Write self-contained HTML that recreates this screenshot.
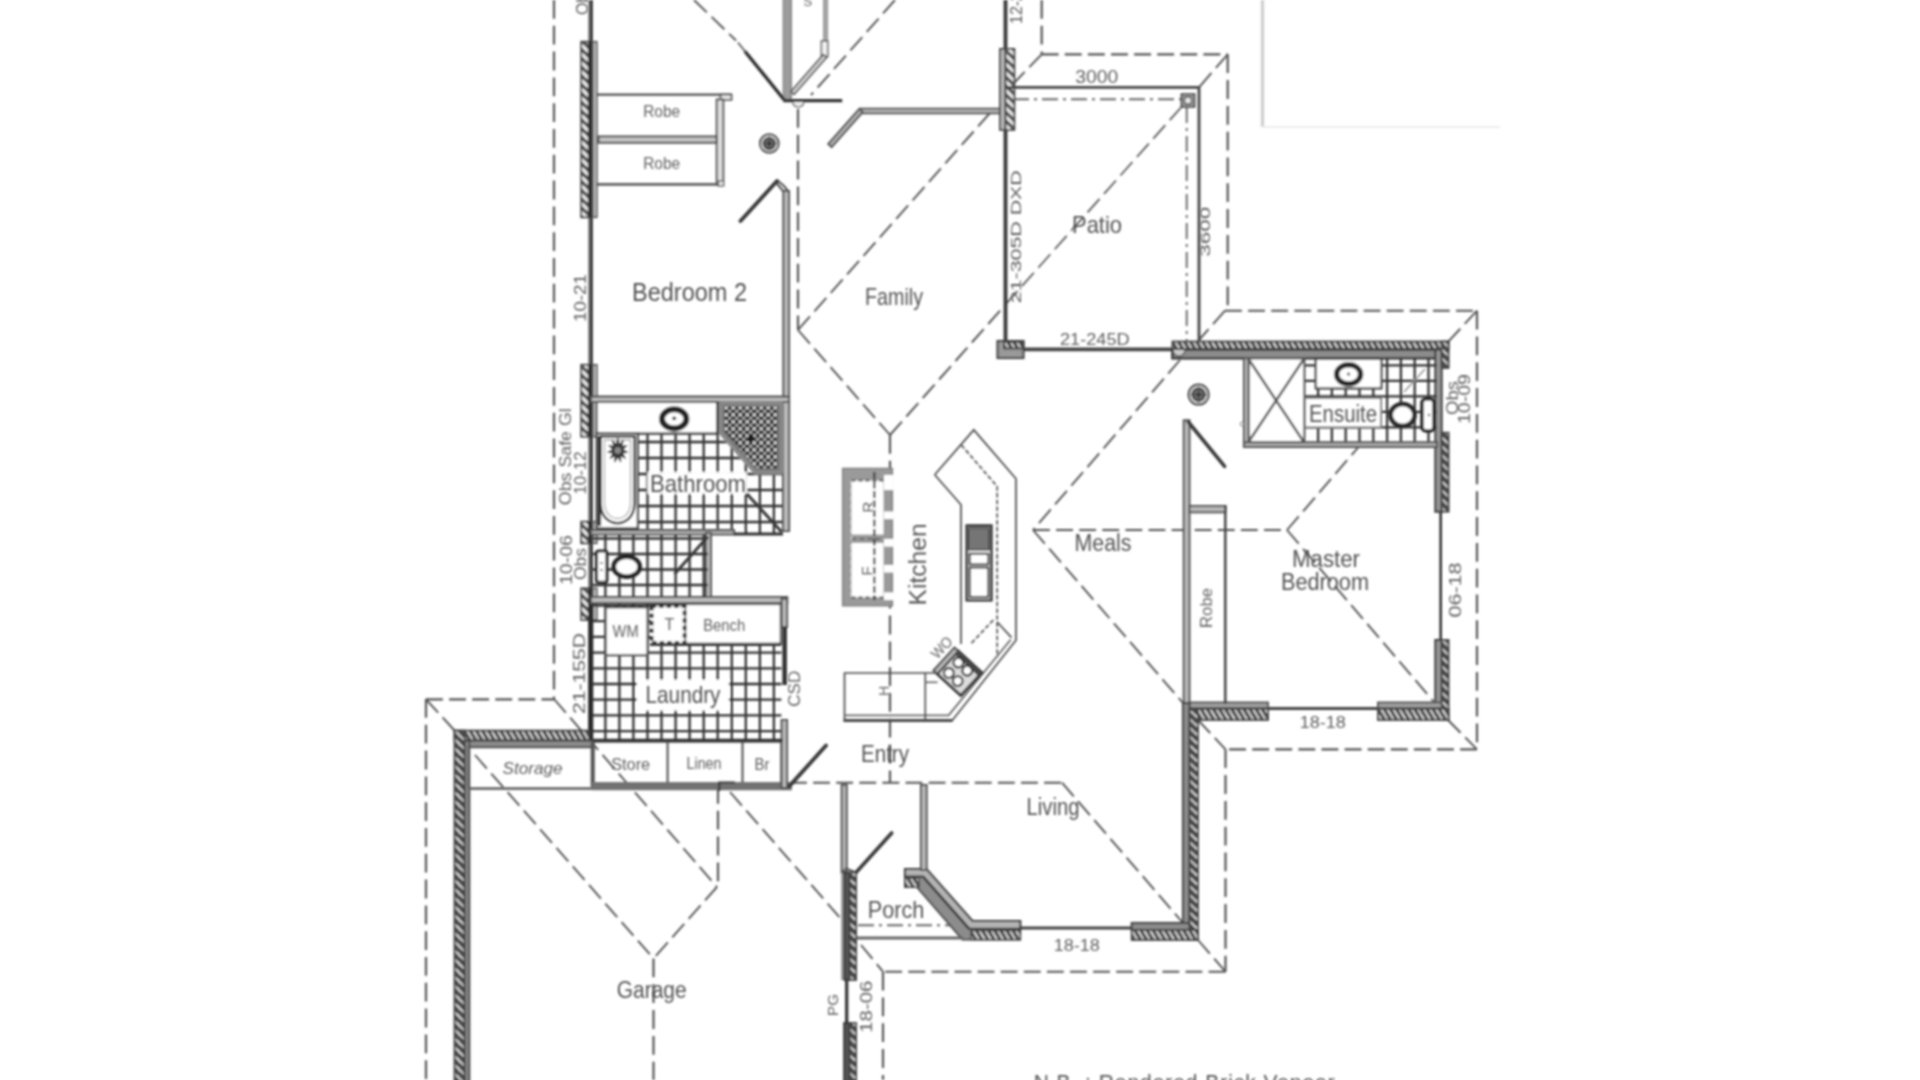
<!DOCTYPE html>
<html lang="en">
<head>
<meta charset="utf-8">
<title>Floor Plan</title>
<style>
html,body{margin:0;padding:0;background:#fff;width:1920px;height:1080px;overflow:hidden}
svg{display:block;position:absolute;left:0;top:0}
svg text{font-family:"Liberation Sans",sans-serif}
</style>
</head>
<body>
<svg width="1920" height="1080" viewBox="0 0 1920 1080">
<defs>
<pattern id="hv" width="9" height="8.8" patternUnits="userSpaceOnUse">
<rect width="9" height="8.8" fill="#f4f4f4"/>
<path d="M-1 -1 L10 9.8 M-1 7.8 L10 18.6 M-1 -9.8 L10 1" stroke="#505050" stroke-width="3.6" fill="none"/>
</pattern>
<pattern id="hh" width="6.1" height="10" patternUnits="userSpaceOnUse">
<rect width="6.1" height="10" fill="#f4f4f4"/>
<path d="M-0.6 -1 L6.7 11 M-6.7 -1 L0.6 11 M5.5 -1 L12.8 11" stroke="#505050" stroke-width="2.7" fill="none"/>
</pattern>
<pattern id="hvd" width="9" height="8.8" patternUnits="userSpaceOnUse">
<rect width="9" height="8.8" fill="#f4f4f4"/>
<path d="M-1 -1 L10 9.8 M-1 7.8 L10 18.6 M-1 -9.8 L10 1" stroke="#4a4a4a" stroke-width="4.9" fill="none"/>
</pattern>
<pattern id="hhd" width="6.1" height="10" patternUnits="userSpaceOnUse">
<rect width="6.1" height="10" fill="#f4f4f4"/>
<path d="M-0.6 -1 L6.7 11 M-6.7 -1 L0.6 11 M5.5 -1 L12.8 11" stroke="#4a4a4a" stroke-width="3.7" fill="none"/>
</pattern>
<pattern id="shw" width="7" height="7" patternUnits="userSpaceOnUse">
<rect width="7" height="7" fill="#6a6a6a"/>
<circle cx="1.7" cy="1.7" r="1.9" fill="#222"/>
<circle cx="5.2" cy="5.2" r="1.9" fill="#2a2a2a"/>
<circle cx="5.2" cy="1.7" r="1.5" fill="#e8e8e8"/>
<circle cx="1.7" cy="5.2" r="1.3" fill="#bbb"/>
</pattern>
<pattern id="spl" width="4" height="4" patternUnits="userSpaceOnUse">
<rect width="4" height="4" fill="#555"/>
<circle cx="1" cy="1" r="1.2" fill="#111"/>
<circle cx="3" cy="3" r="1.2" fill="#111"/>
</pattern>
<pattern id="drn" width="3" height="80" patternUnits="userSpaceOnUse">
<rect width="3" height="80" fill="#999"/>
<rect width="1.5" height="80" fill="#444"/>
</pattern>
</defs>
<filter id="softt" x="0" y="0" width="1920" height="1080" filterUnits="userSpaceOnUse"><feGaussianBlur stdDeviation="0.85"/></filter>
<filter id="soft" x="0" y="0" width="1920" height="1080" filterUnits="userSpaceOnUse"><feGaussianBlur stdDeviation="1.1"/></filter>
<rect width="1920" height="1080" fill="#ffffff"/>
<g filter="url(#soft)">
<line x1="1262.5" y1="0.0" x2="1262.5" y2="127.0" stroke="#cfcfcf" stroke-width="3.36" stroke-linecap="butt"/>
<line x1="1262.5" y1="127.0" x2="1500.0" y2="127.0" stroke="#ececec" stroke-width="2.1" stroke-linecap="butt"/>
<line x1="554.0" y1="0.0" x2="554.0" y2="699.0" stroke="#525252" stroke-width="2.15" stroke-dasharray="18.8 7.0" stroke-linecap="butt"/>
<line x1="426.0" y1="699.3" x2="554.0" y2="699.3" stroke="#525252" stroke-width="2.15" stroke-dasharray="16.9 6.2" stroke-linecap="butt"/>
<line x1="426.0" y1="699.0" x2="426.0" y2="1080.0" stroke="#525252" stroke-width="2.15" stroke-dasharray="18.8 7.0" stroke-linecap="butt"/>
<line x1="426.0" y1="699.3" x2="454.5" y2="730.5" stroke="#525252" stroke-width="1.892" stroke-dasharray="18.0 6.6" stroke-linecap="butt"/>
<line x1="554.0" y1="699.0" x2="717.0" y2="887.0" stroke="#525252" stroke-width="1.892" stroke-dasharray="18.0 6.7" stroke-linecap="butt"/>
<line x1="718.0" y1="785.0" x2="718.0" y2="887.0" stroke="#525252" stroke-width="2.15" stroke-dasharray="18.8 7.0" stroke-linecap="butt"/>
<line x1="475.0" y1="755.0" x2="653.5" y2="958.5" stroke="#525252" stroke-width="1.892" stroke-dasharray="18.0 6.7" stroke-linecap="butt"/>
<line x1="717.0" y1="887.0" x2="653.5" y2="958.5" stroke="#525252" stroke-width="1.892" stroke-dasharray="18.0 6.7" stroke-linecap="butt"/>
<line x1="653.5" y1="958.5" x2="653.5" y2="1080.0" stroke="#525252" stroke-width="2.15" stroke-dasharray="18.8 7.0" stroke-linecap="butt"/>
<line x1="694.0" y1="0.0" x2="736.0" y2="40.5" stroke="#525252" stroke-width="1.892" stroke-dasharray="17.8 6.6" stroke-linecap="butt"/>
<line x1="895.0" y1="0.0" x2="811.0" y2="95.0" stroke="#525252" stroke-width="1.892" stroke-dasharray="18.0 6.7" stroke-linecap="butt"/>
<line x1="798.0" y1="109.0" x2="798.0" y2="330.0" stroke="#525252" stroke-width="2.15" stroke-dasharray="18.8 7.0" stroke-linecap="butt"/>
<line x1="990.0" y1="113.0" x2="798.0" y2="330.0" stroke="#525252" stroke-width="1.892" stroke-dasharray="18.0 6.7" stroke-linecap="butt"/>
<line x1="798.0" y1="330.0" x2="890.0" y2="435.0" stroke="#525252" stroke-width="1.892" stroke-dasharray="18.0 6.7" stroke-linecap="butt"/>
<line x1="890.0" y1="435.0" x2="1005.0" y2="305.0" stroke="#525252" stroke-width="1.892" stroke-dasharray="18.0 6.7" stroke-linecap="butt"/>
<line x1="890.0" y1="435.0" x2="890.0" y2="782.0" stroke="#525252" stroke-width="2.15" stroke-dasharray="18.8 7.0" stroke-linecap="butt"/>
<line x1="790.0" y1="782.7" x2="1062.0" y2="782.7" stroke="#525252" stroke-width="2.15" stroke-dasharray="16.9 6.2" stroke-linecap="butt"/>
<line x1="1062.0" y1="782.7" x2="1183.0" y2="923.0" stroke="#525252" stroke-width="1.892" stroke-dasharray="18.0 6.7" stroke-linecap="butt"/>
<line x1="730.0" y1="792.0" x2="842.0" y2="920.0" stroke="#525252" stroke-width="1.892" stroke-dasharray="18.0 6.7" stroke-linecap="butt"/>
<line x1="1180.0" y1="360.0" x2="1033.0" y2="530.0" stroke="#525252" stroke-width="1.892" stroke-dasharray="18.0 6.7" stroke-linecap="butt"/>
<line x1="1033.0" y1="530.0" x2="1183.0" y2="703.0" stroke="#525252" stroke-width="1.892" stroke-dasharray="18.0 6.7" stroke-linecap="butt"/>
<line x1="1033.0" y1="530.0" x2="1287.0" y2="530.0" stroke="#525252" stroke-width="2.15" stroke-dasharray="16.9 6.2" stroke-linecap="butt"/>
<line x1="1287.0" y1="530.0" x2="1362.0" y2="443.0" stroke="#525252" stroke-width="1.892" stroke-dasharray="18.0 6.7" stroke-linecap="butt"/>
<line x1="1287.0" y1="530.0" x2="1434.0" y2="702.0" stroke="#525252" stroke-width="1.892" stroke-dasharray="18.0 6.7" stroke-linecap="butt"/>
<line x1="1225.0" y1="310.7" x2="1477.0" y2="310.7" stroke="#525252" stroke-width="2.15" stroke-dasharray="16.9 6.2" stroke-linecap="butt"/>
<line x1="1477.0" y1="310.7" x2="1477.0" y2="749.3" stroke="#525252" stroke-width="2.15" stroke-dasharray="18.8 7.0" stroke-linecap="butt"/>
<line x1="1477.0" y1="749.3" x2="1225.0" y2="749.3" stroke="#525252" stroke-width="2.15" stroke-dasharray="16.9 6.2" stroke-linecap="butt"/>
<line x1="1225.5" y1="749.3" x2="1225.5" y2="971.7" stroke="#525252" stroke-width="2.15" stroke-dasharray="18.8 7.0" stroke-linecap="butt"/>
<line x1="1225.5" y1="971.7" x2="883.0" y2="971.7" stroke="#525252" stroke-width="2.15" stroke-dasharray="16.9 6.2" stroke-linecap="butt"/>
<line x1="883.0" y1="971.7" x2="883.0" y2="1080.0" stroke="#525252" stroke-width="2.15" stroke-dasharray="18.8 7.0" stroke-linecap="butt"/>
<line x1="1225.0" y1="310.7" x2="1199.0" y2="340.0" stroke="#525252" stroke-width="1.892" stroke-dasharray="18.0 6.7" stroke-linecap="butt"/>
<line x1="1477.0" y1="310.7" x2="1448.0" y2="342.0" stroke="#525252" stroke-width="1.892" stroke-dasharray="18.0 6.6" stroke-linecap="butt"/>
<line x1="1448.0" y1="720.0" x2="1477.0" y2="749.3" stroke="#525252" stroke-width="1.892" stroke-dasharray="17.9 6.6" stroke-linecap="butt"/>
<line x1="1198.0" y1="720.0" x2="1225.5" y2="749.3" stroke="#525252" stroke-width="1.892" stroke-dasharray="17.9 6.6" stroke-linecap="butt"/>
<line x1="1198.0" y1="940.0" x2="1225.5" y2="971.7" stroke="#525252" stroke-width="1.892" stroke-dasharray="18.0 6.7" stroke-linecap="butt"/>
<line x1="861.0" y1="945.0" x2="883.0" y2="971.7" stroke="#525252" stroke-width="1.892" stroke-dasharray="18.1 6.7" stroke-linecap="butt"/>
<line x1="1041.7" y1="0.0" x2="1041.7" y2="54.3" stroke="#525252" stroke-width="2.15" stroke-dasharray="18.8 7.0" stroke-linecap="butt"/>
<line x1="1041.7" y1="54.3" x2="1227.7" y2="54.3" stroke="#525252" stroke-width="2.15" stroke-dasharray="16.9 6.2" stroke-linecap="butt"/>
<line x1="1227.7" y1="54.3" x2="1227.7" y2="310.7" stroke="#525252" stroke-width="2.15" stroke-dasharray="18.8 7.0" stroke-linecap="butt"/>
<line x1="1041.7" y1="54.3" x2="1014.0" y2="83.0" stroke="#525252" stroke-width="1.892" stroke-dasharray="17.9 6.6" stroke-linecap="butt"/>
<line x1="1227.7" y1="54.3" x2="1199.0" y2="87.3" stroke="#525252" stroke-width="1.892" stroke-dasharray="18.0 6.7" stroke-linecap="butt"/>
<line x1="1013.0" y1="99.3" x2="1181.7" y2="99.3" stroke="#686868" stroke-width="1.9" stroke-dasharray="16 5 3 5" stroke-linecap="butt"/>
<line x1="1186.7" y1="107.0" x2="1186.7" y2="342.0" stroke="#686868" stroke-width="1.9" stroke-dasharray="16 5 3 5" stroke-linecap="butt"/>
<line x1="1181.7" y1="106.7" x2="1006.0" y2="304.0" stroke="#525252" stroke-width="1.672" stroke-dasharray="18.0 6.7" stroke-linecap="butt"/>
<line x1="858.0" y1="925.2" x2="950.0" y2="925.2" stroke="#686868" stroke-width="1.9" stroke-dasharray="16 5 3 5" stroke-linecap="butt"/>
<line x1="589.4" y1="0.0" x2="589.4" y2="740.0" stroke="#777" stroke-width="2.4" stroke-linecap="butt"/>
<line x1="591.4" y1="0.0" x2="591.4" y2="740.0" stroke="#242424" stroke-width="2.6" stroke-linecap="butt"/>
<rect x="581.2" y="41.7" width="7.6" height="175.6" fill="url(#hv)" stroke="#444" stroke-width="1.82"/>
<line x1="590.6" y1="41.7" x2="590.6" y2="217.3" stroke="#2e2e2e" stroke-width="4.4" stroke-linecap="butt"/>
<rect x="592.8" y="41.7" width="4.0" height="175.6" fill="#c0c0c0" stroke="#555" stroke-width="1.68"/>
<rect x="581.2" y="364.8" width="7.6" height="71.9" fill="url(#hv)" stroke="#444" stroke-width="1.82"/>
<line x1="590.6" y1="364.8" x2="590.6" y2="436.7" stroke="#2e2e2e" stroke-width="4.4" stroke-linecap="butt"/>
<rect x="592.8" y="364.8" width="4.0" height="71.9" fill="#c0c0c0" stroke="#555" stroke-width="1.68"/>
<rect x="581.2" y="521.7" width="7.6" height="21.6" fill="url(#hv)" stroke="#444" stroke-width="1.82"/>
<line x1="590.6" y1="521.7" x2="590.6" y2="543.3" stroke="#2e2e2e" stroke-width="4.4" stroke-linecap="butt"/>
<rect x="592.8" y="521.7" width="4.0" height="21.6" fill="#c0c0c0" stroke="#555" stroke-width="1.68"/>
<rect x="581.2" y="588.3" width="7.6" height="31.7" fill="url(#hv)" stroke="#444" stroke-width="1.82"/>
<line x1="590.6" y1="588.3" x2="590.6" y2="620.0" stroke="#2e2e2e" stroke-width="4.4" stroke-linecap="butt"/>
<rect x="592.8" y="588.3" width="4.0" height="31.7" fill="#c0c0c0" stroke="#555" stroke-width="1.68"/>
<line x1="590.8" y1="602.0" x2="590.8" y2="740.0" stroke="#2c2c2c" stroke-width="5.0" stroke-linecap="butt"/>
<line x1="597.0" y1="94.6" x2="731.5" y2="94.6" stroke="#505050" stroke-width="2.4" stroke-linecap="butt"/>
<rect x="720.5" y="94.6" width="11.0" height="5.2" fill="#eee" stroke="#555" stroke-width="1.82"/>
<rect x="716.7" y="99.5" width="6.6" height="85.5" fill="#dedede" stroke="#555" stroke-width="1.96"/>
<rect x="598.5" y="136.5" width="118.2" height="6.2" fill="#c8c8c8" stroke="#555" stroke-width="2.1"/>
<line x1="597.0" y1="184.4" x2="723.5" y2="184.4" stroke="#606060" stroke-width="2.8" stroke-linecap="butt"/>
<rect x="718.5" y="181.0" width="5.0" height="5.0" fill="#eee" stroke="#666" stroke-width="1.4"/>
<rect x="783.2" y="-3.0" width="8.2" height="102.0" fill="#9c9c9c" stroke="#7a7a7a" stroke-width="1.12"/>
<rect x="823.5" y="-3.0" width="4.2" height="44.0" fill="#a6a6a6" stroke="#888" stroke-width="0.84"/>
<rect x="821.4" y="41.0" width="6.3" height="15.5" fill="#f4f4f4" stroke="#666" stroke-width="1.68"/>
<polygon points="823.4,54.6 790.9,91.6 794.1,94.4 826.6,57.4" fill="#d8d8d8" stroke="#555" stroke-width="1.68" stroke-linejoin="miter"/>
<line x1="745.5" y1="52.0" x2="783.5" y2="99.0" stroke="#2a2a2a" stroke-width="3.3" stroke-linecap="round"/>
<line x1="738.0" y1="42.5" x2="745.5" y2="52.0" stroke="#666" stroke-width="2.0" stroke-linecap="butt"/>
<line x1="783.3" y1="100.6" x2="842.2" y2="100.6" stroke="#333" stroke-width="3.4" stroke-linecap="butt"/>
<path d="M792.8 102.3 A5.6 5.6 0 0 0 803.8 102.3" fill="#f0f0f0" stroke="#555" stroke-width="1.4"/>
<polygon points="860.0,113.2 1000.0,113.2 1000.0,108.8 860.0,108.8" fill="#bdbdbd" stroke="#555" stroke-width="2.1" stroke-linejoin="miter"/>
<polygon points="859.4,109.0 828.4,144.0 831.6,147.0 862.6,112.0" fill="#bdbdbd" stroke="#555" stroke-width="2.1" stroke-linejoin="miter"/>
<polygon points="783.4,191.0 783.4,531.0 789.0,531.0 789.0,191.0" fill="#bdbdbd" stroke="#555" stroke-width="2.1" stroke-linejoin="miter"/>
<polyline points="777.5,180.5 784.0,186.0 788.8,192.0" fill="none" stroke="#555" stroke-width="2.1" stroke-linejoin="miter"/>
<polyline points="776.0,182.5 783.5,191.5" fill="none" stroke="#555" stroke-width="2.1" stroke-linejoin="miter"/>
<line x1="740.5" y1="221.0" x2="777.0" y2="181.0" stroke="#3a3a3a" stroke-width="3.84" stroke-linecap="round"/>
<polygon points="591.0,402.0 789.0,402.0 789.0,396.6 591.0,396.6" fill="#bdbdbd" stroke="#555" stroke-width="2.1" stroke-linejoin="miter"/>
<line x1="1005.5" y1="0.0" x2="1005.5" y2="349.0" stroke="#3a3a3a" stroke-width="3.84" stroke-linecap="butt"/>
<rect x="1000.0" y="48.9" width="5.5" height="81.0" fill="#b8b8b8" stroke="#444" stroke-width="1.82"/>
<rect x="1005.5" y="48.9" width="8.9" height="81.0" fill="url(#hv)" stroke="#444" stroke-width="1.82"/>
<line x1="1005.5" y1="87.3" x2="1199.0" y2="87.3" stroke="#444" stroke-width="2.8" stroke-linecap="butt"/>
<line x1="1199.0" y1="86.3" x2="1199.0" y2="343.0" stroke="#444" stroke-width="2.8" stroke-linecap="butt"/>
<rect x="1181.7" y="94.3" width="12.6" height="12.4" fill="#e8e8e8" stroke="#444" stroke-width="2.1"/>
<rect x="1184.5" y="97.0" width="7.0" height="7.0" fill="none" stroke="#444" stroke-width="1.68"/>
<line x1="1020.0" y1="349.4" x2="1174.0" y2="349.4" stroke="#444" stroke-width="3.6" stroke-linecap="butt"/>
<rect x="997.5" y="341.0" width="26.0" height="17.0" fill="#999" stroke="#444" stroke-width="2.1"/>
<rect x="1004.0" y="342.0" width="19.5" height="6.5" fill="url(#hhd)" stroke="#444" stroke-width="1.82"/>
<rect x="1172.4" y="341.5" width="276.2" height="8.0" fill="url(#hhd)" stroke="#444" stroke-width="1.82"/>
<rect x="1172.4" y="349.5" width="269.0" height="8.8" fill="#8c8c8c" stroke="#3a3a3a" stroke-width="2.52"/>
<path d="M1173 350 a6 6 0 0 0 12 0" fill="#ccc" stroke="#555" stroke-width="1.3"/>
<line x1="1440.7" y1="355.0" x2="1440.7" y2="704.0" stroke="#333" stroke-width="2.6" stroke-linecap="butt"/>
<rect x="1435.4" y="349.5" width="6.2" height="162.2" fill="#999" stroke="#3a3a3a" stroke-width="2.1"/>
<rect x="1435.4" y="640.0" width="6.2" height="70.0" fill="#999" stroke="#3a3a3a" stroke-width="2.1"/>
<rect x="1441.6" y="341.5" width="7.0" height="26.5" fill="url(#hvd)" stroke="#444" stroke-width="1.82"/>
<rect x="1441.6" y="432.7" width="7.0" height="79.0" fill="url(#hvd)" stroke="#444" stroke-width="1.82"/>
<rect x="1441.6" y="640.0" width="7.0" height="80.0" fill="url(#hvd)" stroke="#444" stroke-width="1.82"/>
<rect x="1186.7" y="702.5" width="81.3" height="5.6" fill="#a0a0a0" stroke="#555" stroke-width="1.96"/>
<rect x="1186.7" y="708.8" width="81.3" height="11.2" fill="url(#hhd)" stroke="#444" stroke-width="1.82"/>
<rect x="1378.0" y="702.5" width="63.6" height="5.6" fill="#a0a0a0" stroke="#555" stroke-width="1.96"/>
<rect x="1378.0" y="708.8" width="70.6" height="11.2" fill="url(#hhd)" stroke="#444" stroke-width="1.82"/>
<line x1="1268.0" y1="708.5" x2="1378.0" y2="708.5" stroke="#444" stroke-width="3.0" stroke-linecap="butt"/>
<polygon points="1183.8,420.3 1183.8,704.0 1189.4,704.0 1189.4,420.3" fill="#bdbdbd" stroke="#555" stroke-width="2.1" stroke-linejoin="miter"/>
<line x1="1188.3" y1="422.0" x2="1224.6" y2="466.4" stroke="#3a3a3a" stroke-width="3.6" stroke-linecap="round"/>
<rect x="1189.4" y="506.0" width="36.0" height="6.3" fill="#b8b8b8" stroke="#555" stroke-width="1.96"/>
<line x1="1225.3" y1="505.0" x2="1225.3" y2="704.0" stroke="#444" stroke-width="2.52" stroke-linecap="butt"/>
<rect x="1183.0" y="703.0" width="6.5" height="227.0" fill="#8c8c8c" stroke="#444" stroke-width="2.1"/>
<rect x="1189.5" y="710.0" width="8.5" height="230.0" fill="url(#hvd)" stroke="#444" stroke-width="1.82"/>
<rect x="1131.7" y="923.0" width="57.8" height="7.0" fill="#8c8c8c" stroke="#444" stroke-width="2.1"/>
<rect x="1131.7" y="930.0" width="66.3" height="10.0" fill="url(#hhd)" stroke="#444" stroke-width="1.82"/>
<line x1="1020.0" y1="928.0" x2="1131.7" y2="928.0" stroke="#444" stroke-width="3.12" stroke-linecap="butt"/>
<polygon points="905.0,876.5 923.0,876.5 969.0,928.7 1020.3,928.7 1020.3,939.7 962.5,939.7 917.0,887.2 905.0,887.2" fill="#8c8c8c" stroke="#444" stroke-width="1.82" stroke-linejoin="miter"/>
<rect x="971.0" y="930.5" width="49.3" height="9.2" fill="url(#hhd)" stroke="#444" stroke-width="1.4"/>
<rect x="905.0" y="878.0" width="14.0" height="9.2" fill="url(#hhd)" stroke="#444" stroke-width="1.4"/>
<polygon points="905.0,869.0 926.5,869.0 972.5,921.0 1020.3,921.0 1020.3,928.7 969.0,928.7 923.0,876.5 905.0,876.5" fill="#b4b4b4" stroke="#3a3a3a" stroke-width="2.1" stroke-linejoin="miter"/>
<line x1="923.0" y1="876.5" x2="969.0" y2="928.7" stroke="#3a3a3a" stroke-width="2.6" stroke-linecap="butt"/>
<polygon points="841.7,785.0 841.7,873.0 846.7,873.0 846.7,785.0" fill="#bdbdbd" stroke="#555" stroke-width="2.1" stroke-linejoin="miter"/>
<polygon points="921.0,785.0 921.0,870.0 926.6,870.0 926.6,785.0" fill="#bdbdbd" stroke="#555" stroke-width="2.1" stroke-linejoin="miter"/>
<line x1="856.0" y1="872.5" x2="891.7" y2="833.0" stroke="#3a3a3a" stroke-width="3.6" stroke-linecap="round"/>
<polyline points="842.0,873.0 846.0,868.5 856.0,872.5" fill="none" stroke="#555" stroke-width="1.96" stroke-linejoin="miter"/>
<line x1="856.0" y1="938.0" x2="963.0" y2="938.0" stroke="#666" stroke-width="2.8" stroke-linecap="butt"/>
<line x1="842.0" y1="873.0" x2="842.0" y2="980.0" stroke="#999" stroke-width="1.96" stroke-linecap="butt"/>
<rect x="844.0" y="872.5" width="5.6" height="107.5" fill="#555" stroke="#333" stroke-width="1.68"/>
<rect x="849.6" y="872.5" width="6.5" height="107.5" fill="url(#hvd)" stroke="#444" stroke-width="1.82"/>
<line x1="846.7" y1="980.0" x2="846.7" y2="1023.0" stroke="#3a3a3a" stroke-width="3.36" stroke-linecap="butt"/>
<rect x="844.0" y="1023.0" width="5.6" height="60.0" fill="#555" stroke="#333" stroke-width="1.68"/>
<rect x="849.6" y="1023.0" width="6.5" height="60.0" fill="url(#hvd)" stroke="#444" stroke-width="1.82"/>
<rect x="454.5" y="730.6" width="134.5" height="10.0" fill="url(#hhd)" stroke="#444" stroke-width="1.82"/>
<rect x="465.0" y="740.6" width="127.0" height="6.4" fill="#8c8c8c" stroke="#444" stroke-width="1.96"/>
<rect x="454.5" y="730.6" width="10.3" height="352.0" fill="url(#hvd)" stroke="#444" stroke-width="1.82"/>
<rect x="464.8" y="740.6" width="4.5" height="345.0" fill="#8c8c8c" stroke="#444" stroke-width="1.96"/>
<rect x="468.8" y="747.2" width="123.2" height="41.3" fill="none" stroke="#555" stroke-width="2.1"/>
<line x1="592.4" y1="741.0" x2="592.4" y2="786.0" stroke="#555" stroke-width="3.36" stroke-linecap="butt"/>
<rect x="593.7" y="741.7" width="187.7" height="41.8" fill="none" stroke="#555" stroke-width="2.1"/>
<line x1="667.6" y1="741.7" x2="667.6" y2="783.5" stroke="#555" stroke-width="2.1" stroke-linecap="butt"/>
<line x1="742.5" y1="741.7" x2="742.5" y2="783.5" stroke="#555" stroke-width="2.1" stroke-linecap="butt"/>
<line x1="468.0" y1="788.6" x2="593.0" y2="788.6" stroke="#666" stroke-width="2.2" stroke-linecap="butt"/>
<line x1="592.0" y1="786.3" x2="792.0" y2="786.3" stroke="#727272" stroke-width="8.0" stroke-linecap="butt"/>
<polyline points="719.2,791.0 719.2,782.5 735.0,782.5" fill="none" stroke="#3a3a3a" stroke-width="2.24" stroke-linejoin="miter"/>
<line x1="789.2" y1="786.4" x2="826.0" y2="745.5" stroke="#3a3a3a" stroke-width="3.84" stroke-linecap="round"/>
<polygon points="789.0,531.0 789.0,402.0 783.0,402.0 783.0,531.0" fill="#bdbdbd" stroke="#555" stroke-width="2.1" stroke-linejoin="miter"/>
<polygon points="591.0,534.5 734.0,534.5 734.0,530.1 591.0,530.1" fill="#bdbdbd" stroke="#555" stroke-width="2.1" stroke-linejoin="miter"/>
<polygon points="705.9,533.0 705.9,600.0 710.9,600.0 710.9,533.0" fill="#bdbdbd" stroke="#555" stroke-width="2.1" stroke-linejoin="miter"/>
<polygon points="591.0,603.0 787.2,603.0 787.2,597.0 591.0,597.0" fill="#bdbdbd" stroke="#555" stroke-width="2.1" stroke-linejoin="miter"/>
<polygon points="781.6,598.7 781.6,627.0 787.0,627.0 787.0,598.7" fill="#bdbdbd" stroke="#555" stroke-width="2.1" stroke-linejoin="miter"/>
<line x1="784.6" y1="627.0" x2="784.6" y2="685.0" stroke="#333" stroke-width="4.6" stroke-linecap="butt"/>
<polygon points="781.6,720.0 781.6,788.0 787.0,788.0 787.0,720.0" fill="#bdbdbd" stroke="#555" stroke-width="2.1" stroke-linejoin="miter"/>
<line x1="647.5" y1="433.3" x2="647.5" y2="529.0" stroke="#333" stroke-width="2.3" stroke-linecap="butt"/>
<line x1="661.5" y1="433.3" x2="661.5" y2="529.0" stroke="#333" stroke-width="2.3" stroke-linecap="butt"/>
<line x1="675.6" y1="433.3" x2="675.6" y2="529.0" stroke="#333" stroke-width="2.3" stroke-linecap="butt"/>
<line x1="689.6" y1="433.3" x2="689.6" y2="529.0" stroke="#333" stroke-width="2.3" stroke-linecap="butt"/>
<line x1="703.7" y1="433.3" x2="703.7" y2="529.0" stroke="#333" stroke-width="2.3" stroke-linecap="butt"/>
<line x1="717.7" y1="433.3" x2="717.7" y2="529.0" stroke="#333" stroke-width="2.3" stroke-linecap="butt"/>
<line x1="731.8" y1="433.3" x2="731.8" y2="529.0" stroke="#333" stroke-width="2.3" stroke-linecap="butt"/>
<line x1="745.8" y1="433.3" x2="745.8" y2="529.0" stroke="#333" stroke-width="2.3" stroke-linecap="butt"/>
<line x1="759.9" y1="433.3" x2="759.9" y2="529.0" stroke="#333" stroke-width="2.3" stroke-linecap="butt"/>
<line x1="773.9" y1="433.3" x2="773.9" y2="529.0" stroke="#333" stroke-width="2.3" stroke-linecap="butt"/>
<line x1="638.0" y1="442.0" x2="782.5" y2="442.0" stroke="#333" stroke-width="2.3" stroke-linecap="butt"/>
<line x1="638.0" y1="458.0" x2="782.5" y2="458.0" stroke="#333" stroke-width="2.3" stroke-linecap="butt"/>
<line x1="638.0" y1="474.0" x2="782.5" y2="474.0" stroke="#333" stroke-width="2.3" stroke-linecap="butt"/>
<line x1="638.0" y1="490.0" x2="782.5" y2="490.0" stroke="#333" stroke-width="2.3" stroke-linecap="butt"/>
<line x1="638.0" y1="506.0" x2="782.5" y2="506.0" stroke="#333" stroke-width="2.3" stroke-linecap="butt"/>
<line x1="638.0" y1="522.0" x2="782.5" y2="522.0" stroke="#333" stroke-width="2.3" stroke-linecap="butt"/>
<line x1="745.9" y1="529.0" x2="745.9" y2="534.5" stroke="#333" stroke-width="2.3" stroke-linecap="butt"/>
<line x1="759.9" y1="529.0" x2="759.9" y2="534.5" stroke="#333" stroke-width="2.3" stroke-linecap="butt"/>
<line x1="773.9" y1="529.0" x2="773.9" y2="534.5" stroke="#333" stroke-width="2.3" stroke-linecap="butt"/>
<line x1="638.0" y1="433.3" x2="719.0" y2="433.3" stroke="#333" stroke-width="2.8" stroke-linecap="butt"/>
<line x1="734.0" y1="534.0" x2="783.0" y2="534.0" stroke="#333" stroke-width="3.08" stroke-linecap="butt"/>
<line x1="605.4" y1="534.0" x2="605.4" y2="597.5" stroke="#333" stroke-width="2.3" stroke-linecap="butt"/>
<line x1="619.4" y1="534.0" x2="619.4" y2="597.5" stroke="#333" stroke-width="2.3" stroke-linecap="butt"/>
<line x1="633.4" y1="534.0" x2="633.4" y2="597.5" stroke="#333" stroke-width="2.3" stroke-linecap="butt"/>
<line x1="647.5" y1="534.0" x2="647.5" y2="597.5" stroke="#333" stroke-width="2.3" stroke-linecap="butt"/>
<line x1="661.5" y1="534.0" x2="661.5" y2="597.5" stroke="#333" stroke-width="2.3" stroke-linecap="butt"/>
<line x1="675.6" y1="534.0" x2="675.6" y2="597.5" stroke="#333" stroke-width="2.3" stroke-linecap="butt"/>
<line x1="689.6" y1="534.0" x2="689.6" y2="597.5" stroke="#333" stroke-width="2.3" stroke-linecap="butt"/>
<line x1="703.7" y1="534.0" x2="703.7" y2="597.5" stroke="#333" stroke-width="2.3" stroke-linecap="butt"/>
<line x1="593.0" y1="538.5" x2="708.0" y2="538.5" stroke="#333" stroke-width="2.3" stroke-linecap="butt"/>
<line x1="593.0" y1="554.0" x2="708.0" y2="554.0" stroke="#333" stroke-width="2.3" stroke-linecap="butt"/>
<line x1="593.0" y1="569.5" x2="708.0" y2="569.5" stroke="#333" stroke-width="2.3" stroke-linecap="butt"/>
<line x1="593.0" y1="585.0" x2="708.0" y2="585.0" stroke="#333" stroke-width="2.3" stroke-linecap="butt"/>
<line x1="605.4" y1="603.5" x2="605.4" y2="740.0" stroke="#333" stroke-width="2.3" stroke-linecap="butt"/>
<line x1="619.4" y1="603.5" x2="619.4" y2="740.0" stroke="#333" stroke-width="2.3" stroke-linecap="butt"/>
<line x1="633.4" y1="603.5" x2="633.4" y2="740.0" stroke="#333" stroke-width="2.3" stroke-linecap="butt"/>
<line x1="647.5" y1="603.5" x2="647.5" y2="740.0" stroke="#333" stroke-width="2.3" stroke-linecap="butt"/>
<line x1="661.5" y1="603.5" x2="661.5" y2="740.0" stroke="#333" stroke-width="2.3" stroke-linecap="butt"/>
<line x1="675.6" y1="603.5" x2="675.6" y2="740.0" stroke="#333" stroke-width="2.3" stroke-linecap="butt"/>
<line x1="689.6" y1="603.5" x2="689.6" y2="740.0" stroke="#333" stroke-width="2.3" stroke-linecap="butt"/>
<line x1="703.7" y1="603.5" x2="703.7" y2="740.0" stroke="#333" stroke-width="2.3" stroke-linecap="butt"/>
<line x1="717.7" y1="603.5" x2="717.7" y2="740.0" stroke="#333" stroke-width="2.3" stroke-linecap="butt"/>
<line x1="731.8" y1="603.5" x2="731.8" y2="740.0" stroke="#333" stroke-width="2.3" stroke-linecap="butt"/>
<line x1="745.8" y1="603.5" x2="745.8" y2="740.0" stroke="#333" stroke-width="2.3" stroke-linecap="butt"/>
<line x1="759.9" y1="603.5" x2="759.9" y2="740.0" stroke="#333" stroke-width="2.3" stroke-linecap="butt"/>
<line x1="773.9" y1="603.5" x2="773.9" y2="740.0" stroke="#333" stroke-width="2.3" stroke-linecap="butt"/>
<line x1="593.0" y1="605.5" x2="781.4" y2="605.5" stroke="#333" stroke-width="2.3" stroke-linecap="butt"/>
<line x1="593.0" y1="621.2" x2="781.4" y2="621.2" stroke="#333" stroke-width="2.3" stroke-linecap="butt"/>
<line x1="593.0" y1="636.9" x2="781.4" y2="636.9" stroke="#333" stroke-width="2.3" stroke-linecap="butt"/>
<line x1="593.0" y1="652.6" x2="781.4" y2="652.6" stroke="#333" stroke-width="2.3" stroke-linecap="butt"/>
<line x1="593.0" y1="668.3" x2="781.4" y2="668.3" stroke="#333" stroke-width="2.3" stroke-linecap="butt"/>
<line x1="593.0" y1="684.0" x2="781.4" y2="684.0" stroke="#333" stroke-width="2.3" stroke-linecap="butt"/>
<line x1="593.0" y1="699.7" x2="781.4" y2="699.7" stroke="#333" stroke-width="2.3" stroke-linecap="butt"/>
<line x1="593.0" y1="715.4" x2="781.4" y2="715.4" stroke="#333" stroke-width="2.3" stroke-linecap="butt"/>
<line x1="593.0" y1="731.1" x2="781.4" y2="731.1" stroke="#333" stroke-width="2.3" stroke-linecap="butt"/>
<line x1="593.0" y1="740.3" x2="783.0" y2="740.3" stroke="#333" stroke-width="3.08" stroke-linecap="butt"/>
<line x1="1318.1" y1="358.3" x2="1318.1" y2="442.5" stroke="#333" stroke-width="2.3" stroke-linecap="butt"/>
<line x1="1331.9" y1="358.3" x2="1331.9" y2="442.5" stroke="#333" stroke-width="2.3" stroke-linecap="butt"/>
<line x1="1345.7" y1="358.3" x2="1345.7" y2="442.5" stroke="#333" stroke-width="2.3" stroke-linecap="butt"/>
<line x1="1359.5" y1="358.3" x2="1359.5" y2="442.5" stroke="#333" stroke-width="2.3" stroke-linecap="butt"/>
<line x1="1373.3" y1="358.3" x2="1373.3" y2="442.5" stroke="#333" stroke-width="2.3" stroke-linecap="butt"/>
<line x1="1387.1" y1="358.3" x2="1387.1" y2="442.5" stroke="#333" stroke-width="2.3" stroke-linecap="butt"/>
<line x1="1400.9" y1="358.3" x2="1400.9" y2="442.5" stroke="#333" stroke-width="2.3" stroke-linecap="butt"/>
<line x1="1414.7" y1="358.3" x2="1414.7" y2="442.5" stroke="#333" stroke-width="2.3" stroke-linecap="butt"/>
<line x1="1428.5" y1="358.3" x2="1428.5" y2="442.5" stroke="#333" stroke-width="2.3" stroke-linecap="butt"/>
<line x1="1304.3" y1="365.4" x2="1437.0" y2="365.4" stroke="#333" stroke-width="2.3" stroke-linecap="butt"/>
<line x1="1304.3" y1="380.9" x2="1437.0" y2="380.9" stroke="#333" stroke-width="2.3" stroke-linecap="butt"/>
<line x1="1304.3" y1="396.4" x2="1437.0" y2="396.4" stroke="#333" stroke-width="2.3" stroke-linecap="butt"/>
<line x1="1304.3" y1="411.9" x2="1437.0" y2="411.9" stroke="#333" stroke-width="2.3" stroke-linecap="butt"/>
<line x1="1304.3" y1="427.4" x2="1437.0" y2="427.4" stroke="#333" stroke-width="2.3" stroke-linecap="butt"/>
<rect x="596.7" y="402.0" width="120.6" height="31.3" fill="#fff" stroke="#555" stroke-width="2.1"/>
<line x1="717.6" y1="402.0" x2="717.6" y2="434.0" stroke="#3a3a3a" stroke-width="3.0" stroke-linecap="butt"/>
<ellipse cx="674.2" cy="418.9" rx="12.2" ry="9.6" fill="#fff" stroke="#262626" stroke-width="6.0"/>
<circle cx="674.2" cy="418.3" r="1.9" fill="#222"/>
<polygon points="720.5,403.0 781.7,403.0 781.7,472.6 755.0,472.6 720.5,433.0" fill="#777" stroke="#8a8a8a" stroke-width="3.6" stroke-linejoin="round"/>
<polygon points="724.5,407.0 777.5,407.0 777.5,468.5 757.0,468.5 724.5,431.0" fill="url(#shw)" stroke="none" stroke-width="0.0" stroke-linejoin="miter"/>
<circle cx="751" cy="438" r="3.4" fill="#1a1a1a"/>
<rect x="596.7" y="433.3" width="41.1" height="95.0" fill="#fff" stroke="#444" stroke-width="2.24"/>
<path d="M600.5 436.5 H634.5 V503 C634.5 530 600.5 530 600.5 503 Z" fill="#fff" stroke="#444" stroke-width="2.6"/>
<line x1="599.5" y1="436.0" x2="599.5" y2="526.0" stroke="#333" stroke-width="3.2" stroke-linecap="butt"/>
<path d="M604.5 440 H630.5 V502 C630.5 524 604.5 524 604.5 502 Z" fill="none" stroke="#aaa" stroke-width="1.3"/>
<path d="M617.8 438.4 L619.3 444.5 L623.3 440.3 L621.8 446.4 L627.0 445.5 L623.0 449.6 L627.8 452.2 L622.6 453.1 L625.4 458.4 L620.7 455.8 L620.7 462.1 L617.8 456.8 L614.9 462.1 L614.9 455.8 L610.2 458.4 L613.0 453.1 L607.8 452.2 L612.6 449.6 L608.6 445.5 L613.8 446.4 L612.3 440.3 L616.3 444.5Z" fill="#3a3a3a" stroke="#222" stroke-width="1"/>
<circle cx="617.8" cy="450.5" r="3.2" fill="#888"/>
<line x1="746.8" y1="493.7" x2="781.7" y2="532.0" stroke="#3a3a3a" stroke-width="3.12" stroke-linecap="butt"/>
<rect x="647.5" y="472.2" width="99.3" height="21.5" fill="#fff" stroke="none" stroke-width="0.0"/>
<rect x="596.5" y="551.0" width="10.4" height="31.3" fill="#fff" stroke="#2e2e2e" stroke-width="3.12" rx="2"/>
<ellipse cx="626.7" cy="566.7" rx="13.0" ry="10.0" fill="#fff" stroke="#262626" stroke-width="4.6"/>
<circle cx="601.5" cy="563" r="1.1" fill="#222"/><circle cx="601.5" cy="570" r="1.1" fill="#222"/>
<line x1="707.9" y1="536.5" x2="674.6" y2="574.0" stroke="#3a3a3a" stroke-width="3.12" stroke-linecap="butt"/>
<rect x="605.8" y="607.3" width="41.7" height="47.9" fill="#fff" stroke="#555" stroke-width="2.24"/>
<line x1="605.8" y1="606.3" x2="647.5" y2="606.3" stroke="#333" stroke-width="2.8" stroke-dasharray="5 3" stroke-linecap="butt"/>
<rect x="685.0" y="604.0" width="95.8" height="39.8" fill="#fff" stroke="#555" stroke-width="2.24"/>
<rect x="651.6" y="606.2" width="33.0" height="36.6" fill="#fff" stroke="#2e2e2e" stroke-width="3.84" stroke-dasharray="4.5 3"/>
<line x1="650.0" y1="644.6" x2="781.0" y2="644.6" stroke="#3a3a3a" stroke-width="3.0" stroke-linecap="butt"/>
<rect x="637.0" y="680.0" width="91.8" height="30.4" fill="#fff" stroke="none" stroke-width="0.0"/>
<rect x="1248.5" y="358.3" width="55.8" height="84.1" fill="#fff" stroke="#555" stroke-width="2.24"/>
<polygon points="1244.0,358.3 1244.0,446.9 1248.5,446.9 1248.5,358.3" fill="#bdbdbd" stroke="#555" stroke-width="2.1" stroke-linejoin="miter"/>
<polygon points="1244.0,446.9 1437.0,446.9 1437.0,442.4 1244.0,442.4" fill="#bdbdbd" stroke="#555" stroke-width="2.1" stroke-linejoin="miter"/>
<line x1="1248.5" y1="359.0" x2="1303.8" y2="442.0" stroke="#555" stroke-width="2.52" stroke-linecap="butt"/>
<line x1="1303.8" y1="359.0" x2="1248.5" y2="442.0" stroke="#555" stroke-width="2.52" stroke-linecap="butt"/>
<circle cx="1242" cy="424" r="2" fill="none" stroke="#888" stroke-width="1"/>
<rect x="1315.8" y="358.8" width="65.6" height="29.6" fill="#fff" stroke="#444" stroke-width="2.24"/>
<ellipse cx="1348.6" cy="374.3" rx="12.0" ry="9.6" fill="#fff" stroke="#2a2a2a" stroke-width="5.4"/>
<circle cx="1348.6" cy="374" r="1.5" fill="#333"/>
<rect x="1305.0" y="398.0" width="76.0" height="29.4" fill="#fff" stroke="#777" stroke-width="1.96"/>
<rect x="1422.0" y="399.0" width="12.0" height="32.0" fill="#fff" stroke="#2a2a2a" stroke-width="3.6" rx="4"/>
<ellipse cx="1402.6" cy="415.0" rx="12.0" ry="11.0" fill="#fff" stroke="#2a2a2a" stroke-width="4.6"/>
<circle cx="1429" cy="415" r="1.2" fill="#333"/>
<line x1="1404.0" y1="392.0" x2="1425.0" y2="369.0" stroke="#999" stroke-width="1.68" stroke-linecap="butt"/>
<circle cx="769.3" cy="143.5" r="9.3" fill="#e4e4e4" stroke="#444" stroke-width="2.0"/>
<circle cx="769.3" cy="143.5" r="5.700000000000001" fill="#6a6a6a" stroke="#2e2e2e" stroke-width="1.8"/>
<circle cx="769.3" cy="143.5" r="2.2" fill="#2a2a2a"/>
<line x1="762.0" y1="143.5" x2="776.6" y2="143.5" stroke="#444" stroke-width="1.0" stroke-linecap="butt"/>
<line x1="769.3" y1="136.2" x2="769.3" y2="150.8" stroke="#444" stroke-width="1.0" stroke-linecap="butt"/>
<circle cx="1198.6" cy="394.6" r="10.0" fill="#e4e4e4" stroke="#444" stroke-width="2.0"/>
<circle cx="1198.6" cy="394.6" r="6.4" fill="#6a6a6a" stroke="#2e2e2e" stroke-width="1.8"/>
<circle cx="1198.6" cy="394.6" r="2.2" fill="#2a2a2a"/>
<line x1="1190.6" y1="394.6" x2="1206.6" y2="394.6" stroke="#444" stroke-width="1.0" stroke-linecap="butt"/>
<line x1="1198.6" y1="386.6" x2="1198.6" y2="402.6" stroke="#444" stroke-width="1.0" stroke-linecap="butt"/>
<rect x="842.6" y="468.4" width="49.8" height="137.4" fill="#9a9a9a" stroke="#808080" stroke-width="1.4"/>
<rect x="851.5" y="480.5" width="32.0" height="54.0" fill="#fff" stroke="none" stroke-width="0.0"/>
<rect x="851.5" y="543.0" width="32.0" height="54.5" fill="#fff" stroke="none" stroke-width="0.0"/>
<rect x="884.0" y="475.0" width="9.5" height="15.0" fill="#fff" stroke="none" stroke-width="0.0"/>
<rect x="884.0" y="511.5" width="9.5" height="7.5" fill="#fff" stroke="none" stroke-width="0.0"/>
<rect x="884.0" y="539.0" width="9.5" height="7.6" fill="#fff" stroke="none" stroke-width="0.0"/>
<rect x="884.0" y="565.0" width="9.5" height="7.5" fill="#fff" stroke="none" stroke-width="0.0"/>
<rect x="884.0" y="592.4" width="9.5" height="7.6" fill="#fff" stroke="none" stroke-width="0.0"/>
<line x1="851.5" y1="480.5" x2="851.5" y2="597.5" stroke="#e8e8e8" stroke-width="1.6" stroke-dasharray="4 4" stroke-linecap="butt"/>
<line x1="851.5" y1="480.5" x2="883.5" y2="480.5" stroke="#555" stroke-width="1.8" stroke-dasharray="4 3" stroke-linecap="butt"/>
<line x1="851.5" y1="597.5" x2="883.5" y2="597.5" stroke="#555" stroke-width="1.8" stroke-dasharray="4 3" stroke-linecap="butt"/>
<line x1="851.5" y1="538.7" x2="883.5" y2="538.7" stroke="#555" stroke-width="1.6" stroke-dasharray="5 3" stroke-linecap="butt"/>
<line x1="874.3" y1="472.0" x2="874.3" y2="600.0" stroke="#3c3c3c" stroke-width="2.2" stroke-dasharray="7 2.5" stroke-linecap="butt"/>
<polyline points="934.7,474.8 973.8,429.9 1016.0,478.8 1016.0,640.2 952.2,720.4 844.5,720.4 844.5,673.0 937.6,673.0" fill="none" stroke="#484848" stroke-width="1.68" stroke-linejoin="miter"/>
<polyline points="934.7,474.8 961.0,504.8 961.0,644.0" fill="none" stroke="#484848" stroke-width="1.68" stroke-linejoin="miter"/>
<polyline points="1010.8,639.5 948.6,715.4 844.5,715.4" fill="none" stroke="#666" stroke-width="1.82" stroke-linejoin="miter"/>
<line x1="843.5" y1="720.4" x2="952.5" y2="720.4" stroke="#4a4a4a" stroke-width="3.0" stroke-linecap="butt"/>
<polyline points="961.3,445.0 997.2,486.5 997.2,657.0" fill="none" stroke="#484848" stroke-width="1.61" stroke-dasharray="4.6 2.2" stroke-linejoin="miter"/>
<line x1="993.3" y1="620.0" x2="970.0" y2="644.7" stroke="#484848" stroke-width="1.61" stroke-dasharray="4.6 2.2" stroke-linecap="butt"/>
<line x1="997.2" y1="622.0" x2="1011.5" y2="637.6" stroke="#484848" stroke-width="1.61" stroke-linecap="butt"/>
<line x1="925.3" y1="673.0" x2="925.3" y2="720.0" stroke="#484848" stroke-width="1.61" stroke-linecap="butt"/>
<line x1="925.3" y1="682.3" x2="937.6" y2="682.3" stroke="#5e5e5e" stroke-width="1.54" stroke-linecap="butt"/>
<rect x="966.8" y="525.6" width="24.5" height="74.6" fill="#fff" stroke="#3c3c3c" stroke-width="2.8"/>
<rect x="969.0" y="528.0" width="20.0" height="22.0" fill="url(#drn)" stroke="#444" stroke-width="1.4"/>
<rect x="969.8" y="553.7" width="18.5" height="10.7" fill="#fff" stroke="#3c3c3c" stroke-width="2.1"/>
<rect x="969.8" y="567.5" width="18.5" height="29.5" fill="#fff" stroke="#3c3c3c" stroke-width="2.1"/>
<g transform="translate(959.5 673.2) rotate(-47.5)">
<rect x="-15.5" y="-16.0" width="31.0" height="32.0" fill="#dcdcdc" stroke="#333" stroke-width="2.8"/>
<rect x="-15.5" y="-21.0" width="31.0" height="5.0" fill="#bbb" stroke="#444" stroke-width="1.96"/>
<rect x="10.5" y="-16.0" width="5.0" height="32.0" fill="#4a4a4a" stroke="none" stroke-width="0.0"/>
<circle cx="-7" cy="-8" r="4.8" fill="#fff" stroke="#2e2e2e" stroke-width="2.2"/>
<circle cx="7" cy="-8" r="4.8" fill="#fff" stroke="#2e2e2e" stroke-width="2.2"/>
<circle cx="-7" cy="4" r="4.8" fill="#fff" stroke="#2e2e2e" stroke-width="2.2"/>
<circle cx="7" cy="4" r="4.8" fill="#fff" stroke="#2e2e2e" stroke-width="2.2"/>
</g>
</g>
<g filter="url(#softt)">
<text x="661.7" y="117.1" font-size="17" fill="#606060" text-anchor="middle" textLength="37.0" lengthAdjust="spacingAndGlyphs">Robe</text>
<text x="661.7" y="169.4" font-size="17" fill="#606060" text-anchor="middle" textLength="37.0" lengthAdjust="spacingAndGlyphs">Robe</text>
<text x="689.5" y="300.9" font-size="25" fill="#525252" text-anchor="middle" textLength="115.0" lengthAdjust="spacingAndGlyphs">Bedroom 2</text>
<text x="894.0" y="304.6" font-size="24" fill="#525252" text-anchor="middle" textLength="58.0" lengthAdjust="spacingAndGlyphs">Family</text>
<text x="1096.7" y="83.1" font-size="18" fill="#606060" text-anchor="middle" textLength="43.0" lengthAdjust="spacingAndGlyphs">3000</text>
<text x="1097.0" y="232.6" font-size="24" fill="#525252" text-anchor="middle" textLength="50.0" lengthAdjust="spacingAndGlyphs">Patio</text>
<text x="1094.8" y="345.3" font-size="16" fill="#606060" text-anchor="middle" textLength="69.5" lengthAdjust="spacingAndGlyphs">21-245D</text>
<text x="698.0" y="491.9" font-size="24" fill="#525252" text-anchor="middle" textLength="96.0" lengthAdjust="spacingAndGlyphs">Bathroom</text>
<text x="1343.0" y="421.8" font-size="23" fill="#525252" text-anchor="middle" textLength="68.0" lengthAdjust="spacingAndGlyphs">Ensuite</text>
<text x="1103.0" y="551.2" font-size="23" fill="#525252" text-anchor="middle" textLength="57.0" lengthAdjust="spacingAndGlyphs">Meals</text>
<text x="1326.0" y="567.2" font-size="23" fill="#525252" text-anchor="middle" textLength="68.0" lengthAdjust="spacingAndGlyphs">Master</text>
<text x="1325.0" y="589.9" font-size="23" fill="#525252" text-anchor="middle" textLength="88.0" lengthAdjust="spacingAndGlyphs">Bedroom</text>
<text x="625.6" y="637.0" font-size="16" fill="#606060" text-anchor="middle" textLength="26.0" lengthAdjust="spacingAndGlyphs">WM</text>
<text x="669.4" y="629.7" font-size="16" fill="#606060" text-anchor="middle">T</text>
<text x="724.2" y="630.7" font-size="16" fill="#606060" text-anchor="middle" textLength="42.0" lengthAdjust="spacingAndGlyphs">Bench</text>
<text x="683.0" y="703.4" font-size="24" fill="#525252" text-anchor="middle" textLength="75.0" lengthAdjust="spacingAndGlyphs">Laundry</text>
<text x="532.6" y="774.4" font-size="17" fill="#606060" text-anchor="middle" textLength="60.0" lengthAdjust="spacingAndGlyphs" font-style="italic">Storage</text>
<text x="630.7" y="770.1" font-size="17" fill="#606060" text-anchor="middle" textLength="39.0" lengthAdjust="spacingAndGlyphs">Store</text>
<text x="704.0" y="769.1" font-size="17" fill="#606060" text-anchor="middle" textLength="35.0" lengthAdjust="spacingAndGlyphs">Linen</text>
<text x="762.0" y="770.1" font-size="17" fill="#606060" text-anchor="middle" textLength="15.0" lengthAdjust="spacingAndGlyphs">Br</text>
<text x="885.0" y="762.2" font-size="23" fill="#525252" text-anchor="middle" textLength="48.0" lengthAdjust="spacingAndGlyphs">Entry</text>
<text x="1053.0" y="814.9" font-size="23" fill="#525252" text-anchor="middle" textLength="53.0" lengthAdjust="spacingAndGlyphs">Living</text>
<text x="896.0" y="918.2" font-size="24" fill="#525252" text-anchor="middle" textLength="56.5" lengthAdjust="spacingAndGlyphs">Porch</text>
<text x="651.7" y="998.2" font-size="23" fill="#525252" text-anchor="middle" textLength="70.0" lengthAdjust="spacingAndGlyphs">Garage</text>
<text x="1322.7" y="728.4" font-size="16" fill="#606060" text-anchor="middle" textLength="46.0" lengthAdjust="spacingAndGlyphs">18-18</text>
<text x="1076.7" y="950.7" font-size="16" fill="#606060" text-anchor="middle" textLength="46.0" lengthAdjust="spacingAndGlyphs">18-18</text>
<text x="884.0" y="696.0" font-size="14" fill="#606060" text-anchor="middle" transform="rotate(-90 884.0 691.0)">H</text>
<text x="807.8" y="6.2" font-size="13" fill="#606060" text-anchor="middle">S</text>
<text x="1033.7" y="1090.3" font-size="22" fill="#555" textLength="302" lengthAdjust="spacingAndGlyphs" letter-spacing="1">N.B. : Rendered Brick Veneer</text>
<text x="582" y="15" font-size="16" fill="#555" transform="rotate(-90 582 15)" dy="5.5">Obs</text>
<text x="580.0" y="303.7" font-size="16" fill="#606060" text-anchor="middle" textLength="48.0" lengthAdjust="spacingAndGlyphs" transform="rotate(-90 580.0 298.0)">10-21</text>
<text x="565.7" y="462.4" font-size="16" fill="#606060" text-anchor="middle" textLength="97.0" lengthAdjust="spacingAndGlyphs" transform="rotate(-90 565.7 456.7)">Obs Safe Gl</text>
<text x="580.0" y="478.7" font-size="16" fill="#606060" text-anchor="middle" textLength="43.0" lengthAdjust="spacingAndGlyphs" transform="rotate(-90 580.0 473.0)">10-12</text>
<text x="566.7" y="565.7" font-size="16" fill="#606060" text-anchor="middle" textLength="50.0" lengthAdjust="spacingAndGlyphs" transform="rotate(-90 566.7 560.0)">10-06</text>
<text x="580.0" y="569.7" font-size="16" fill="#606060" text-anchor="middle" textLength="32.0" lengthAdjust="spacingAndGlyphs" transform="rotate(-90 580.0 564.0)">Obs</text>
<text x="579.0" y="679.7" font-size="17" fill="#606060" text-anchor="middle" textLength="81.0" lengthAdjust="spacingAndGlyphs" transform="rotate(-90 579.0 673.6)">21-155D</text>
<text x="1016.7" y="24" font-size="16" fill="#555" transform="rotate(-90 1016.7 24)" dy="5.5">12-21</text>
<text x="1015.5" y="242.1" font-size="15" fill="#5c5c5c" text-anchor="middle" textLength="133.0" lengthAdjust="spacingAndGlyphs" transform="rotate(-90 1015.5 236.7)">21-305D DXD</text>
<text x="1205.0" y="237.2" font-size="15.5" fill="#5c5c5c" text-anchor="middle" textLength="50.0" lengthAdjust="spacingAndGlyphs" transform="rotate(-90 1205.0 231.7)">3600</text>
<text x="917.9" y="572.6" font-size="23" fill="#525252" text-anchor="middle" textLength="82.0" lengthAdjust="spacingAndGlyphs" transform="rotate(-90 917.9 564.4)">Kitchen</text>
<text x="1206.0" y="613.7" font-size="16" fill="#606060" text-anchor="middle" textLength="40.0" lengthAdjust="spacingAndGlyphs" transform="rotate(-90 1206.0 608.0)">Robe</text>
<text x="1455.0" y="596.1" font-size="17" fill="#606060" text-anchor="middle" textLength="55.0" lengthAdjust="spacingAndGlyphs" transform="rotate(-90 1455.0 590.0)">06-18</text>
<text x="1452.2" y="403.7" font-size="16" fill="#606060" text-anchor="middle" textLength="34.0" lengthAdjust="spacingAndGlyphs" transform="rotate(-90 1452.2 398.0)">Obs</text>
<text x="1464.6" y="404.7" font-size="16" fill="#606060" text-anchor="middle" textLength="50.0" lengthAdjust="spacingAndGlyphs" transform="rotate(-90 1464.6 399.0)">10-09</text>
<text x="794.0" y="694.4" font-size="16" fill="#606060" text-anchor="middle" textLength="36.0" lengthAdjust="spacingAndGlyphs" transform="rotate(-90 794.0 688.7)">CSD</text>
<text x="833.0" y="1010.4" font-size="15" fill="#606060" text-anchor="middle" textLength="22.0" lengthAdjust="spacingAndGlyphs" transform="rotate(-90 833.0 1005.0)">PG</text>
<text x="866.7" y="1012.4" font-size="16" fill="#606060" text-anchor="middle" textLength="52.0" lengthAdjust="spacingAndGlyphs" transform="rotate(-90 866.7 1006.7)">18-06</text>
<text x="867.5" y="512.4" font-size="15" fill="#5c5c5c" text-anchor="middle" transform="rotate(-90 867.5 507.0)">R</text>
<text x="866.6" y="576.4" font-size="15" fill="#5c5c5c" text-anchor="middle" transform="rotate(-90 866.6 571.0)">F</text>
<text x="941.5" y="652.7" font-size="15" fill="#606060" text-anchor="middle" textLength="24.0" lengthAdjust="spacingAndGlyphs" transform="rotate(-47 941.5 647.3)">WO</text>
</g>
</svg>
</body>
</html>
